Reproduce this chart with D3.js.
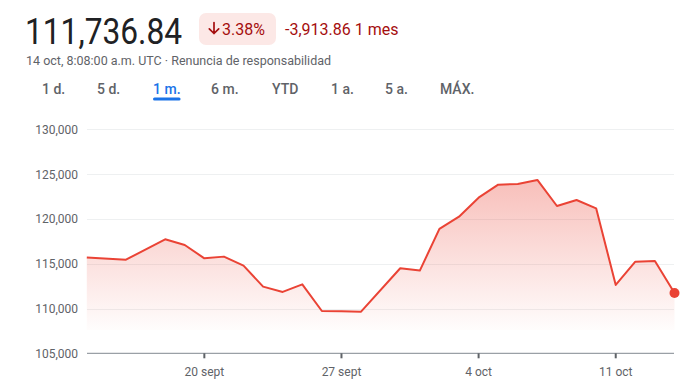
<!DOCTYPE html>
<html><head><meta charset="utf-8">
<script src="https://cdn.jsdelivr.net/npm/d3@7"></script>
<style>
html,body{margin:0;padding:0;background:#fff;}
svg{display:block;font-family:Roboto, Arial, sans-serif;}
</style></head>
<body><svg id="c" width="697" height="385"></svg>
<script>
const dates = ["2025-09-14","2025-09-16","2025-09-18","2025-09-19","2025-09-20","2025-09-21","2025-09-22","2025-09-23","2025-09-24","2025-09-25","2025-09-26","2025-09-27","2025-09-28","2025-09-30","2025-10-01","2025-10-02","2025-10-03","2025-10-04","2025-10-05","2025-10-06","2025-10-07","2025-10-08","2025-10-09","2025-10-10","2025-10-11","2025-10-12","2025-10-13","2025-10-14"];
const values = [115700,115450,117720,117090,115600,115790,114780,112440,111850,112700,109720,109700,109650,114490,114230,118880,120250,122370,123820,123900,124350,121440,122110,121180,112630,115230,115300,111736.84];
const yTicks = [105000,110000,115000,120000,125000,130000];
const xTickDates = ["2025-09-20","2025-09-27","2025-10-04","2025-10-11"];
const xTickLabels = ["20 sept","27 sept","4 oct","11 oct"];
const tabs = ["1 d.","5 d.","1 m.","6 m.","YTD","1 a.","5 a.","MÁX."];
const activeTab = "1 m.";
const price = "111,736.84";
const pct = "3.38%";
const change = "-3,913.86 1 mes";
const subtitle = "14 oct, 8:08:00 a.m. UTC · Renuncia de responsabilidad";
const fillFloor = 107600;

const svg = d3.select("#c");
const parse = d3.utcParse("%Y-%m-%d");
const data = dates.map((d,i)=>({d:parse(d), v:values[i]}));

// header
svg.append("text").attr("x",25).attr("y",44).attr("font-size",36.5).attr("fill","#202124")
  .attr("textLength",157).attr("lengthAdjust","spacingAndGlyphs").text(price);
svg.append("rect").attr("x",199).attr("y",13).attr("width",77).attr("height",32).attr("rx",7).attr("fill","#fce8e6");
svg.append("path").attr("d","M214,22.5V33.5M209.3,28.8L214,33.5L218.7,28.8")
  .attr("fill","none").attr("stroke","#a50e0e").attr("stroke-width",1.7).attr("stroke-linecap","round").attr("stroke-linejoin","round");
svg.append("text").attr("x",222).attr("y",35).attr("font-size",16).attr("fill","#a50e0e").text(pct);
svg.append("text").attr("x",285).attr("y",35).attr("font-size",16).attr("fill","#a50e0e").text(change);
svg.append("text").attr("x",26).attr("y",65).attr("font-size",12.5).attr("fill","#5f6368").text(subtitle);

const tabX = [42,97,153,211,272,331,385,440];
tabs.forEach((t,i)=>{
  const act = t===activeTab;
  const tx = svg.append("text").attr("x",tabX[i]).attr("y",94).attr("font-size",14)
    .attr("font-weight",500).attr("fill",act?"#1a73e8":"#5f6368").text(t);
  if(act){
    const w = tx.node().getComputedTextLength();
    svg.append("rect").attr("x",tabX[i]).attr("y",97.5).attr("width",w).attr("height",3).attr("rx",1.5).attr("fill","#1a73e8");
  }
});

// scales
const x = d3.scaleUtc().domain([parse("2025-09-14"),parse("2025-10-14")]).range([86.8,674.5]);
const y = d3.scaleLinear().domain([105000,130000]).range([353.3,129.3]);
const left = 87, right = 674;

// gridlines
svg.append("g").selectAll("line").data(yTicks.slice(1)).join("line")
  .attr("x1",left).attr("x2",right).attr("y1",d=>Math.round(y(d))+0.5).attr("y2",d=>Math.round(y(d))+0.5)
  .attr("stroke","#eef0f1").attr("stroke-width",1);
svg.append("g").selectAll("text").data(yTicks).join("text")
  .attr("x",78).attr("y",d=>y(d)+4.5).attr("text-anchor","end").attr("font-size",12).attr("fill","#5f6368")
  .text(d=>d3.format(",")(d));

// gradient area
const defs = svg.append("defs");
const grad = defs.append("linearGradient").attr("id","g").attr("gradientUnits","userSpaceOnUse")
  .attr("x1",0).attr("x2",0).attr("y1",y(d3.max(values))).attr("y2",y(fillFloor));
grad.append("stop").attr("offset",0).attr("stop-color","#ea4335").attr("stop-opacity",0.34);
grad.append("stop").attr("offset",1).attr("stop-color","#ea4335").attr("stop-opacity",0.012);
svg.append("path").datum(data).attr("fill","url(#g)")
  .attr("d",d3.area().x(d=>x(d.d)).y0(y(fillFloor)).y1(d=>y(d.v)));

// axis
const ax = svg.append("g").attr("transform",`translate(0,${y(105000)})`);
ax.append("line").attr("x1",left).attr("x2",right).attr("stroke","#9aa0a6").attr("stroke-width",1.2);
xTickDates.forEach((d,i)=>{
  const px = x(parse(d));
  ax.append("line").attr("x1",px).attr("x2",px).attr("y1",0).attr("y2",5).attr("stroke","#5f6368").attr("stroke-width",2);
  ax.append("text").attr("x",px).attr("y",23).attr("text-anchor","middle").attr("font-size",12).attr("fill","#5f6368").text(xTickLabels[i]);
});

// line
svg.append("path").datum(data).attr("fill","none").attr("stroke","#ea4335").attr("stroke-width",2)
  .attr("stroke-linejoin","round").attr("d",d3.line().x(d=>x(d.d)).y(d=>y(d.v)));
const last = data[data.length-1];
svg.append("circle").attr("cx",x(last.d)).attr("cy",y(last.v)).attr("r",5).attr("fill","#ea4335");
</script></body></html>
